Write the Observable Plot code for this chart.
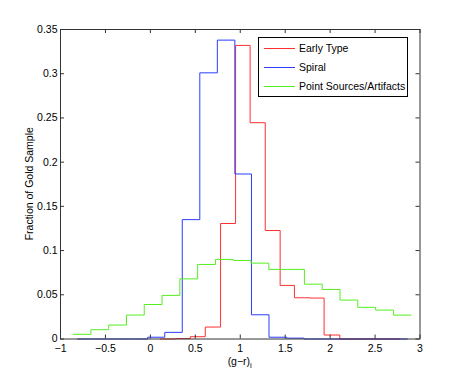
<!DOCTYPE html>
<html>
<head>
<meta charset="utf-8">
<script src="https://cdn.jsdelivr.net/npm/d3@7"></script>
<script src="https://cdn.jsdelivr.net/npm/@observablehq/plot@0.6"></script>
<style>
  body { margin: 0; background: #fff; }
  #wrap { position: relative; width: 463px; height: 382px; font-family: "Liberation Sans", Arial, sans-serif; }
  #legend { position: absolute; left: 258px; top: 37px; width: 150px; height: 60px; border: 1px solid #000; background: #fff; box-sizing: border-box; font-size: 10.5px; color: #000; }
  .row { position: absolute; left: 0; height: 14px; display: flex; align-items: center; white-space: nowrap; }
  .sw { width: 31px; height: 0; border-top: 1px solid; margin-left: 5px; margin-right: 4px; flex: none; }
</style>
</head>
<body>
<div id="wrap"></div>
<script>
const xTicks = [-1, -0.5, 0, 0.5, 1, 1.5, 2, 2.5, 3];
const yTicks = [0, 0.05, 0.1, 0.15, 0.2, 0.25, 0.3, 0.35];

const seriesNames = ["Early Type", "Spiral", "Point Sources/Artifacts"];
const seriesColors = ["#ff3030", "#2a3cff", "#55ee22"];

// Early Type (red) bin edges and fractions
const earlyEdges = [0.112, 0.278, 0.445, 0.611, 0.781, 0.948, 1.11, 1.278, 1.444, 1.603, 1.776, 1.933, 2.108, 2.274, 2.44, 2.607, 2.773];
const earlyValues = [0, 0.0005, 0.0026, 0.0135, 0.1306, 0.332, 0.2446, 0.1227, 0.0606, 0.0466, 0.0463, 0.0045, 0, 0, 0, 0];

// Spiral (blue)
const spiralEdges = [-0.81, -0.615, -0.42, -0.225, -0.03, 0.16, 0.355, 0.55, 0.745, 0.94, 1.125, 1.32, 1.515, 1.71, 1.905, 2.1, 2.295, 2.49, 2.685, 2.86];
const spiralValues = [0, 0, 0, 0, 0.002, 0.0075, 0.135, 0.301, 0.338, 0.1866, 0.0274, 0.002, 0.001, 0, 0, 0, 0, 0, 0];

// Point Sources/Artifacts (green)
const pointEdges = [-0.86, -0.662, -0.464, -0.266, -0.068, 0.13, 0.328, 0.526, 0.724, 0.922, 1.12, 1.318, 1.516, 1.714, 1.912, 2.11, 2.308, 2.506, 2.704, 2.902];
const pointValues = [0.0053, 0.0105, 0.0158, 0.0271, 0.039, 0.0493, 0.068, 0.0843, 0.09, 0.0888, 0.0858, 0.0787, 0.0787, 0.062, 0.056, 0.044, 0.0358, 0.0327, 0.027];

function stairs(edges, values) {
  return edges.map((e, i) => ({x: e, y: values[Math.min(i, values.length - 1)]}));
}

const W = 463, H = 382;
const mL = 60, mR = 43.5, mT = 29, mB = 43.5;
const plotW = W - mL - mR, plotH = H - mT - mB;
const fmt = d => String(d).replace("-", "\u2212");

const plot = Plot.plot({
  width: W, height: H,
  marginLeft: mL, marginRight: mR, marginTop: mT, marginBottom: mB,
  style: {fontFamily: "'Liberation Sans', Arial, sans-serif", fontSize: "10.5px", color: "#000", background: "#fff"},
  x: {domain: [-1, 3]},
  y: {domain: [0, 0.35]},
  marks: [
    Plot.line(stairs(earlyEdges, earlyValues), {x: "x", y: "y", stroke: seriesColors[0], strokeWidth: 1, curve: "step-after"}),
    Plot.line(stairs(spiralEdges, spiralValues), {x: "x", y: "y", stroke: seriesColors[1], strokeWidth: 1, curve: "step-after"}),
    Plot.line(stairs(pointEdges, pointValues), {x: "x", y: "y", stroke: seriesColors[2], strokeWidth: 1, curve: "step-after"}),
    Plot.tickX(xTicks, {x: d => d, stroke: "#333", insetTop: plotH - 4}),
    Plot.tickX(xTicks, {x: d => d, stroke: "#333", insetBottom: plotH - 4}),
    Plot.tickY(yTicks, {y: d => d, stroke: "#333", insetRight: plotW - 4}),
    Plot.tickY(yTicks, {y: d => d, stroke: "#333", insetLeft: plotW - 4}),
    Plot.frame({stroke: "#333"}),
    Plot.axisX({ticks: xTicks, tickSize: 0, tickPadding: 6, tickFormat: fmt, label: null}),
    Plot.axisY({ticks: yTicks, tickSize: 0, tickPadding: 3, tickFormat: fmt, label: null})
  ]
});

const wrap = document.getElementById("wrap");
wrap.appendChild(plot);

const svg = d3.select(plot);
const cx = (mL + (W - mR)) / 2;
const cy = (mT + (H - mB)) / 2;
const xl = svg.append("text")
  .attr("x", cx).attr("y", 365)
  .attr("text-anchor", "middle")
  .attr("fill", "#000")
  .style("font-size", "10.5px");
xl.append("tspan").text("(g\u2212r)");
xl.append("tspan").attr("dy", "3").style("font-size", "8px").text("i");

svg.append("text")
  .attr("transform", `translate(29,${cy}) rotate(-90)`)
  .attr("text-anchor", "middle")
  .attr("dy", "0.35em")
  .attr("fill", "#000")
  .style("font-size", "10.5px")
  .text("Fraction of Gold Sample");

// legend
const legend = document.createElement("div");
legend.id = "legend";
seriesNames.forEach((name, i) => {
  const row = document.createElement("div");
  row.className = "row";
  row.style.top = (3 + i * 19) + "px";
  const sw = document.createElement("span");
  sw.className = "sw";
  sw.style.borderTopColor = seriesColors[i];
  const t = document.createElement("span");
  t.textContent = name;
  row.appendChild(sw); row.appendChild(t);
  legend.appendChild(row);
});
wrap.appendChild(legend);
</script>
</body>
</html>
